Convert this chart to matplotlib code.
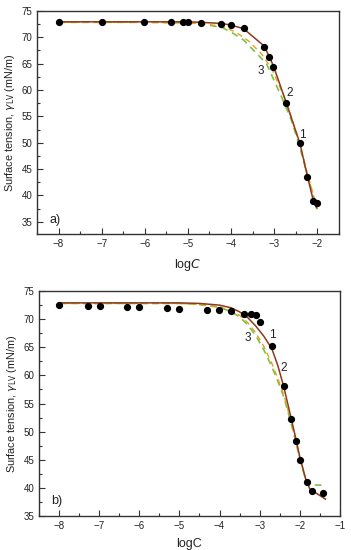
import numpy as np
import matplotlib
matplotlib.use("Agg")
import matplotlib.pyplot as plt
from matplotlib.ticker import MultipleLocator

plt.rcParams['font.family'] = ['Liberation Sans', 'DejaVu Sans']

# ---- panel a) data ----
a_logc = [-8.0, -7.0, -6.01, -5.40, -5.11, -5.0, -4.70, -4.24, -4.01, -3.71,
          -3.23, -3.12, -3.02, -2.72, -2.40, -2.24, -2.11, -2.0]
a_gamma = [72.8, 72.8, 72.8, 72.8, 72.8, 72.8, 72.7, 72.5, 72.3, 71.7,
           68.2, 66.3, 64.4, 57.5, 49.9, 43.5, 39.0, 38.6]

a_c1_x = [-8.0, -7.0, -6.0, -5.0, -4.7, -4.24, -4.01, -3.71, -3.23, -3.12,
          -3.02, -2.72, -2.40, -2.24, -2.10, -2.02]
a_c1_y = [72.9, 72.9, 72.9, 72.9, 72.8, 72.6, 72.3, 71.6, 68.3, 66.4,
          64.6, 57.6, 49.8, 44.0, 39.3, 37.7]
a_c2_x = [-8.0, -6.0, -5.0, -4.6, -4.2, -3.9, -3.6, -3.3, -3.05, -2.8,
          -2.6, -2.4, -2.2, -2.0]
a_c2_y = [72.8, 72.8, 72.7, 72.5, 72.0, 71.0, 69.3, 66.9, 63.9, 59.3,
          54.8, 49.5, 43.3, 37.4]
a_c3_x = [-8.0, -6.0, -5.0, -4.6, -4.2, -3.95, -3.7, -3.49, -3.18, -2.83,
          -2.6, -2.4, -2.2, -2.0]
a_c3_y = [72.8, 72.8, 72.7, 72.4, 71.8, 70.7, 69.4, 67.6, 65.0, 58.7,
          54.3, 49.0, 43.0, 37.4]

# ---- panel b) data ----
b_logc = [-8.0, -7.28, -6.99, -6.30, -6.0, -5.30, -5.0, -4.31, -4.01, -3.72,
          -3.40, -3.22, -3.10, -3.0, -2.70, -2.40, -2.22, -2.10, -2.0, -1.83,
          -1.70, -1.41]
b_gamma = [72.6, 72.4, 72.3, 72.2, 72.1, 71.9, 71.8, 71.7, 71.6, 71.4,
           71.0, 71.0, 70.7, 69.5, 65.3, 58.1, 52.2, 48.3, 44.9, 41.0,
           39.4, 39.1]

b_c1_x = [-8.0, -6.0, -5.0, -4.5, -4.0, -3.7, -3.5, -3.3, -3.1, -2.9,
          -2.7, -2.55, -2.4, -2.22, -2.1, -2.0, -1.85, -1.75, -1.6, -1.36]
b_c1_y = [72.9, 72.9, 72.9, 72.8, 72.5, 72.0, 71.3, 70.3, 68.8, 67.0,
          64.8, 61.8, 58.0, 52.5, 48.8, 45.5, 41.5, 39.8, 39.1, 38.0]
b_c2_x = [-8.0, -6.0, -5.0, -4.5, -4.0, -3.7, -3.5, -3.3, -3.1, -2.9,
          -2.7, -2.55, -2.4, -2.22, -2.1, -2.0, -1.85, -1.78]
b_c2_y = [72.8, 72.8, 72.8, 72.6, 72.2, 71.5, 70.7, 69.4, 67.6, 65.2,
          62.2, 59.5, 56.6, 51.8, 48.4, 45.4, 41.4, 40.5]
b_c3_x = [-8.0, -6.0, -5.0, -4.5, -4.0, -3.7, -3.5, -3.3, -3.1, -2.9,
          -2.7, -2.55, -2.4, -2.22, -2.1, -2.0, -1.85, -1.78, -1.40]
b_c3_y = [72.8, 72.8, 72.8, 72.6, 72.1, 71.3, 70.4, 69.0, 67.1, 64.6,
          61.6, 59.0, 56.2, 51.6, 48.2, 45.2, 41.3, 40.5, 40.5]

# curve labels: (text, x, y)
a_labels = [('1', -2.34, 51.5), ('2', -2.64, 59.4), ('3', -3.31, 63.6)]
b_labels = [('1', -2.69, 67.2), ('2', -2.39, 61.3), ('3', -3.29, 66.6)]

brown = '#8b3a1e'
orange = '#e8a020'
green = '#7cc243'
axcol = '#333333'
txtcol = '#222222'

fig = plt.figure(figsize=(3.51, 5.5), dpi=100)
ax_a = fig.add_axes([0.1054, 0.5745, 0.860, 0.406])
ax_b = fig.add_axes([0.111, 0.0618, 0.8575, 0.409])


def style(ax, xlim, ylim):
    ax.set_xlim(*xlim)
    ax.set_ylim(*ylim)
    ax.xaxis.set_major_locator(MultipleLocator(1))
    ax.xaxis.set_minor_locator(MultipleLocator(0.5))
    ax.yaxis.set_major_locator(MultipleLocator(5))
    ax.yaxis.set_minor_locator(MultipleLocator(2.5))
    ax.tick_params(which='both', direction='in', colors=axcol, labelsize=7,
                   top=False, right=False, labelcolor=txtcol)
    ax.tick_params(which='major', length=4, width=0.8)
    ax.tick_params(which='minor', length=2.5, width=0.8)
    for s in ax.spines.values():
        s.set_color(axcol)
        s.set_linewidth(1.0)
    ax.set_ylabel(r'Surface tension, $\gamma_{\rm LV}$ (mN/m)', fontsize=7.8,
                  color=txtcol, labelpad=3)


def draw(ax, c1x, c1y, c2x, c2y, c3x, c3y, px, py, labels):
    ax.plot(c3x, c3y, color=green, lw=1.2, ls=(0, (4, 3)), zorder=2)
    ax.plot(c2x, c2y, color=orange, lw=1.0, ls=(3, (4, 3)), zorder=2)
    ax.plot(c1x, c1y, color=brown, lw=1.1, zorder=3)
    ax.plot(px, py, 'o', color='black', ms=4.2, zorder=4)
    for t, x, y in labels:
        ax.text(x, y, t, fontsize=8.5, color=txtcol, ha='center', va='center')


# panel a
draw(ax_a, a_c1_x, a_c1_y, a_c2_x, a_c2_y, a_c3_x, a_c3_y,
     a_logc, a_gamma, a_labels)
style(ax_a, (-8.5, -1.5), (32.7, 75))
ax_a.set_xlabel(r'log$C$', fontsize=9, color=txtcol, labelpad=6)
ax_a.text(0.043, 0.063, 'a)', transform=ax_a.transAxes, fontsize=9,
          va='center', ha='left', color=txtcol)

# panel b
draw(ax_b, b_c1_x, b_c1_y, b_c2_x, b_c2_y, b_c3_x, b_c3_y,
     b_logc, b_gamma, b_labels)
style(ax_b, (-8.5, -1.0), (35, 75))
ax_b.set_xlabel('logC', fontsize=9, color=txtcol, labelpad=5)
ax_b.text(0.042, 0.068, 'b)', transform=ax_b.transAxes, fontsize=9,
          va='center', ha='left', color=txtcol)

fig.savefig('out.png', dpi=100)
